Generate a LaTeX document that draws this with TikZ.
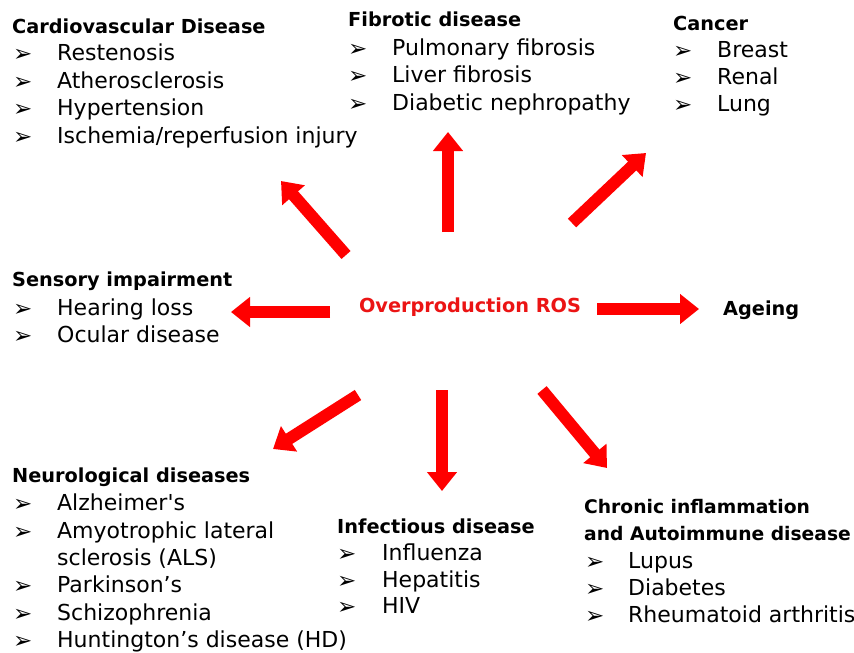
\documentclass[tikz,border=0pt]{standalone}
\usepackage{fontspec}
\setmainfont{DejaVu Sans}
\newfontfamily\nolig{DejaVu Sans}[Ligatures=TeXOff]
\usetikzlibrary{arrows.meta}
\definecolor{rosred}{RGB}{235,20,20}
\tikzset{
  itm/.style={anchor=base west, inner sep=0pt, font=\fontsize{22}{26}\selectfont},
  hdr/.style={anchor=base west, inner sep=0pt, font=\fontsize{19.3}{23}\selectfont\bfseries},
  hdrs/.style={hdr, font=\fontsize{18.7}{23}\selectfont\bfseries},
  bul/.style={anchor=base west, inner sep=0pt, yshift=-1pt, font=\fontsize{23}{26}\selectfont},
  bigarrow/.style={draw=red, line width=12pt, -{Triangle[width=29pt,length=19pt]}, fill=red},
  ros/.style={inner sep=0pt, text=rosred, font=\fontsize{19.3}{23}\selectfont\bfseries}
}
\begin{document}
\begin{tikzpicture}[x=1pt,y=-1pt]
\useasboundingbox (0,0) rectangle (854,653);
\fill[white] (0,0) rectangle (854,653);

% Cardiovascular
\node[hdr] (cvh) at (12,33) {Cardiovascular Disease};
\node[bul] (cvb1) at (13,60) {➢}; \node[itm] (cv1) at (57,60) {Restenosis};
\node[bul] (cvb2) at (13,88) {➢}; \node[itm] (cv2) at (57,88) {Atherosclerosis};
\node[bul] (cvb3) at (13,115) {➢}; \node[itm] (cv3) at (57,115) {Hypertension};
\node[bul] (cvb4) at (13,143) {➢}; \node[itm] (cv4) at (57,143) {Ischemia/reperfusion injury};

% Fibrotic
\node[hdr] (fbh) at (348,27) {Fibrotic disease};
\node[bul] (fbb1) at (348,55) {➢}; \node[itm] (fb1) at (392,55) {Pulmonary fibrosis};
\node[bul] (fbb2) at (348,82) {➢}; \node[itm] (fb2) at (392,82) {Liver fibrosis};
\node[bul] (fbb3) at (348,110) {➢}; \node[itm] (fb3) at (392,110) {Diabetic nephropathy};

% Cancer
\node[hdr] (cah) at (673,30) {Cancer};
\node[bul] (cab1) at (673,57) {➢}; \node[itm] (ca1) at (717,57) {Breast};
\node[bul] (cab2) at (673,84) {➢}; \node[itm] (ca2) at (717,84) {Renal};
\node[bul] (cab3) at (673,111) {➢}; \node[itm] (ca3) at (717,111) {Lung};

% Sensory
\node[hdr] (seh) at (12,286) {Sensory impairment};
\node[bul] (seb1) at (13,315) {➢}; \node[itm] (se1) at (57,315) {Hearing loss};
\node[bul] (seb2) at (13,342) {➢}; \node[itm] (se2) at (57,342) {Ocular disease};

% Ageing
\node[hdr] (age) at (723,315) {Ageing};

% Neurological
\node[hdr] (neh) at (12,482) {Neurological diseases};
\node[bul] (neb1) at (13,510) {➢}; \node[itm] (ne1) at (57,510) {Alzheimer{\nolig'}s};
\node[bul] (neb2) at (13,538) {➢}; \node[itm] (ne2) at (57,538) {Amyotrophic lateral};
\node[itm] (ne2b) at (57,565) {sclerosis (ALS)};
\node[bul] (neb3) at (13,592) {➢}; \node[itm] (ne3) at (57,592) {Parkinson’s};
\node[bul] (neb4) at (13,620) {➢}; \node[itm] (ne4) at (57,620) {Schizophrenia};
\node[bul] (neb5) at (13,647) {➢}; \node[itm] (ne5) at (57,647) {Huntington’s disease (HD)};

% Infectious
\node[hdr] (inh) at (337,533) {Infectious disease};
\node[bul] (inb1) at (337,560) {➢}; \node[itm] (in1) at (382,560) {Influenza};
\node[bul] (inb2) at (337,587) {➢}; \node[itm] (in2) at (382,587) {Hepatitis};
\node[bul] (inb3) at (337,613) {➢}; \node[itm] (in3) at (382,613) {HIV};

% Chronic inflammation
\node[hdrs] (chh1) at (584,513) {Chronic inflammation};
\node[hdrs] (chh2) at (584,540) {and Autoimmune disease};
\node[bul] (chb1) at (585,568) {➢}; \node[itm] (ch1) at (628,568) {Lupus};
\node[bul] (chb2) at (585,595) {➢}; \node[itm] (ch2) at (628,595) {Diabetes};
\node[bul] (chb3) at (585,622) {➢}; \node[itm] (ch3) at (628,622) {Rheumatoid arthritis};

% Centre
\node[ros] (ros) at (470,307) {Overproduction ROS};

% Arrow ends
\coordinate (t1) at (346,255); \coordinate (h1) at (281,181);
\coordinate (t2) at (448,232); \coordinate (h2) at (448,132);
\coordinate (t3) at (572,223); \coordinate (h3) at (646,153);
\coordinate (t4) at (330,312); \coordinate (h4) at (231,312);
\coordinate (t5) at (597,309); \coordinate (h5) at (699,309);
\coordinate (t6) at (358,395); \coordinate (h6) at (273,449);
\coordinate (t7) at (442,390); \coordinate (h7) at (442,491);
\coordinate (t8) at (542,390); \coordinate (h8) at (607,468);

\foreach \i in {1,...,8} {
  \draw[bigarrow] (t\i) -- (h\i);
}
\end{tikzpicture}
\end{document}
